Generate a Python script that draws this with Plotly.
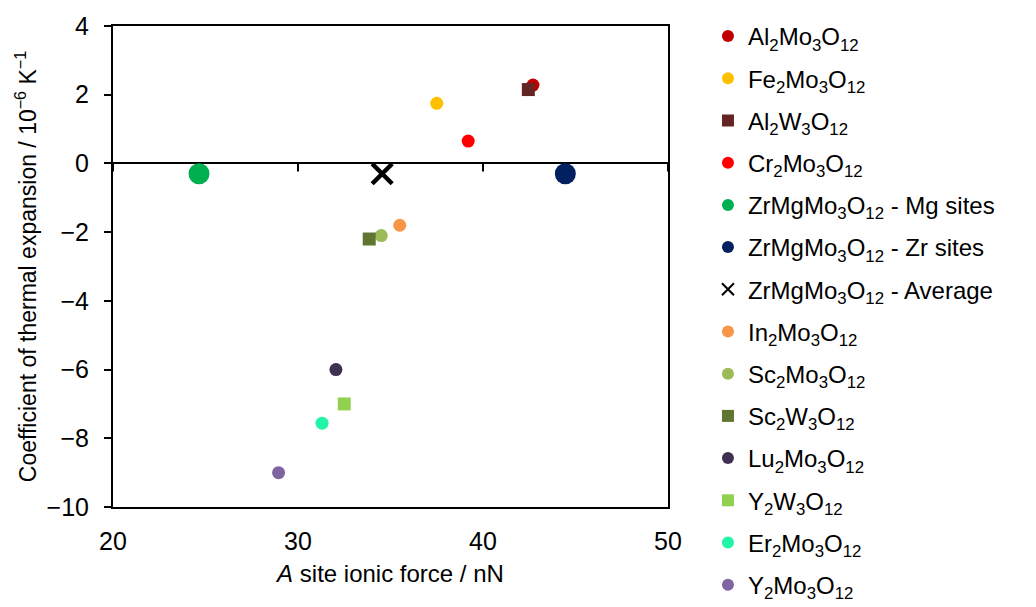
import plotly.graph_objects as go

names = ["Al<sub>2</sub>Mo<sub>3</sub>O<sub>12</sub>",
         "Fe<sub>2</sub>Mo<sub>3</sub>O<sub>12</sub>",
         "Al<sub>2</sub>W<sub>3</sub>O<sub>12</sub>",
         "Cr<sub>2</sub>Mo<sub>3</sub>O<sub>12</sub>",
         "ZrMgMo<sub>3</sub>O<sub>12</sub> - Mg sites",
         "ZrMgMo<sub>3</sub>O<sub>12</sub> - Zr sites",
         "ZrMgMo<sub>3</sub>O<sub>12</sub> - Average",
         "In<sub>2</sub>Mo<sub>3</sub>O<sub>12</sub>",
         "Sc<sub>2</sub>Mo<sub>3</sub>O<sub>12</sub>",
         "Sc<sub>2</sub>W<sub>3</sub>O<sub>12</sub>",
         "Lu<sub>2</sub>Mo<sub>3</sub>O<sub>12</sub>",
         "Y<sub>2</sub>W<sub>3</sub>O<sub>12</sub>",
         "Er<sub>2</sub>Mo<sub>3</sub>O<sub>12</sub>",
         "Y<sub>2</sub>Mo<sub>3</sub>O<sub>12</sub>"]
ionic_force = [42.7, 37.5, 42.45, 39.2, 24.65, 44.45, 34.55, 35.5, 34.5, 33.85, 32.05, 32.5, 31.3, 28.95]
cte = [2.28, 1.75, 2.15, 0.65, -0.3, -0.3, -0.3, -1.8, -2.1, -2.2, -6.0, -7.0, -7.56, -9.0]
colors = ["#C00000", "#FFC000", "#632523", "#FF0000", "#00B050", "#002060", "#000000",
          "#F79646", "#9BBB59", "#5F7530", "#3F3151", "#92D050", "#20F5A8", "#8064A2"]
symbols = ["circle", "circle", "square", "circle", "circle", "circle", "x-thin",
           "circle", "circle", "square", "circle", "square", "circle", "circle"]
sizes = [13, 13, 13, 13, 21, 21, 20, 13, 13, 13, 13, 13, 13, 13]
x_ticks = [20, 30, 40, 50]
y_ticks = [-10, -8, -6, -4, -2, 0, 2, 4]

fig = go.Figure()
for i, n in enumerate(names):
    line = dict(width=4.5, color=colors[i]) if symbols[i] == "x-thin" else dict(width=0)
    fig.add_trace(go.Scatter(
        x=[ionic_force[i]], y=[cte[i]], mode="markers", name=n,
        legendgroup=f"g{i}",
        marker=dict(symbol=symbols[i], size=sizes[i], color=colors[i], line=line),
    ))

for xv in x_ticks:
    fig.add_shape(type="line", xref="x", yref="y", x0=xv, x1=xv,
                  ysizemode="pixel", yanchor=0, y0=0, y1=-8,
                  line=dict(color="black", width=2))

font = "Liberation Sans, Arial, sans-serif"
fig.update_layout(
    width=1036, height=607,
    margin=dict(l=113, r=368, t=19, b=100),
    paper_bgcolor="white", plot_bgcolor="white",
    font=dict(family=font, size=25, color="black"),
    showlegend=True,
    legend=dict(x=1.072, y=0.982, xanchor="left", yanchor="top",
                font=dict(size=24), itemsizing="constant", maxheight=700,
                tracegroupgap=8, bgcolor="rgba(0,0,0,0)"),
    xaxis=dict(range=[20, 50], tickvals=x_ticks, showgrid=False, zeroline=False,
               showline=True, mirror=True, linecolor="black", linewidth=2,
               ticks="", ticklabelstandoff=11,
               title=dict(text="<i>A</i> site ionic force / nN", font=dict(size=24), standoff=11)),
    yaxis=dict(range=[-10, 4], tickvals=y_ticks, showgrid=False,
               zeroline=True, zerolinecolor="black", zerolinewidth=2,
               showline=True, mirror=True, linecolor="black", linewidth=2,
               ticks="outside", ticklen=7, tickwidth=2, tickcolor="black",
               ticklabelstandoff=10,
               title=dict(text="Coefficient of thermal expansion / 10<sup>−6</sup> K<sup>−1</sup>",
                          font=dict(size=23), standoff=4)),
)
fig.write_html("out.html")
